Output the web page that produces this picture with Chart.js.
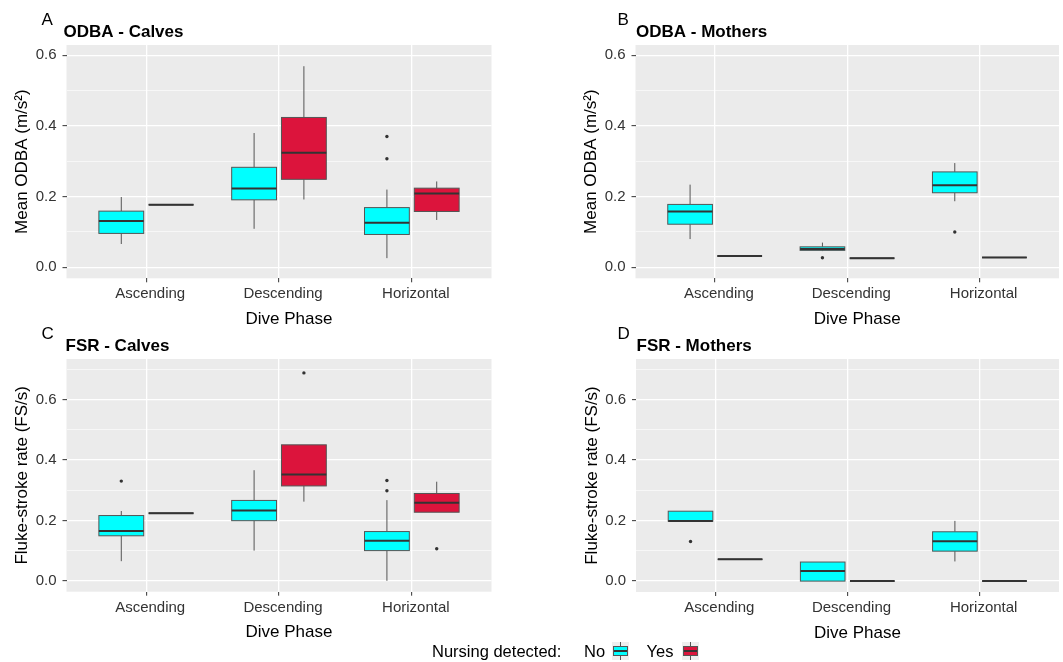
<!DOCTYPE html>
<html>
<head>
<meta charset="utf-8">
<script src="https://cdn.jsdelivr.net/npm/chart.js@4.4.1/dist/chart.umd.min.js"></script>
<style>
  html, body { margin: 0; padding: 0; background: #fff; }
  #wrap { position: relative; width: 1063px; height: 662px; overflow: hidden;
          font-family: 'Liberation Sans', Arial, sans-serif; }
  #wrap canvas { position: absolute; }
  .lg { position: absolute; font-size: 16.5px; line-height: 20px; color: #000; white-space: nowrap; }
  .key { position: absolute; width: 17px; height: 18px; background: #EEEEEE; }
  .key .wh { position: absolute; left: 8px; width: 1px; height: 4px; background: #555; }
  .key .bx { position: absolute; left: 1px; top: 4px; width: 13px; height: 8px; border: 1px solid #555; }
  .key .md { position: absolute; left: 2px; top: 8px; width: 13px; height: 2px; background: #333; }
</style>
</head>
<body>
<div id="wrap">
  <canvas id="pA" width="500" height="330" style="left:0px;top:0px;width:500px;height:330px"></canvas>
  <canvas id="pB" width="503" height="330" style="left:560px;top:0px;width:503px;height:330px"></canvas>
  <canvas id="pC" width="500" height="352" style="left:0px;top:310px;width:500px;height:352px"></canvas>
  <canvas id="pD" width="503" height="352" style="left:560px;top:310px;width:503px;height:352px"></canvas>
  <div id="legend"></div>
</div>
<script>
// categories
const phases = ['Ascending', 'Descending', 'Horizontal'];
const nursing = ['No', 'Yes'];
const legendTitle = 'Nursing detected:';
const xTitle = 'Dive Phase';

// box stats per phase: [lower whisker, Q1, median, Q3, upper whisker]
const odbaCalvesNo  = [[0.066, 0.096, 0.131, 0.159, 0.199], [0.109, 0.191, 0.223, 0.283, 0.380], [0.026, 0.093, 0.126, 0.169, 0.220]];
const odbaCalvesYes = [[0.177, 0.177, 0.177, 0.177, 0.177], [0.192, 0.249, 0.324, 0.424, 0.569], [0.134, 0.158, 0.209, 0.224, 0.243]];
const odbaCalvesNoOut  = [[], [], [0.370, 0.307]];
const odbaCalvesYesOut = [[], [], []];

const odbaMothersNo  = [[0.080, 0.122, 0.158, 0.178, 0.234], [0.046, 0.048, 0.052, 0.058, 0.070], [0.187, 0.211, 0.232, 0.270, 0.295]];
const odbaMothersYes = [[0.032, 0.032, 0.032, 0.032, 0.032], [0.026, 0.026, 0.026, 0.026, 0.026], [0.028, 0.028, 0.028, 0.028, 0.028]];
const odbaMothersNoOut  = [[], [0.027], [0.100]];
const odbaMothersYesOut = [[], [], []];

const fsrCalvesNo  = [[0.065, 0.149, 0.165, 0.216, 0.231], [0.100, 0.199, 0.233, 0.266, 0.366], [0.000, 0.100, 0.133, 0.163, 0.267]];
const fsrCalvesYes = [[0.224, 0.224, 0.224, 0.224, 0.224], [0.262, 0.314, 0.352, 0.450, 0.450], [0.227, 0.227, 0.258, 0.289, 0.328]];
const fsrCalvesNoOut  = [[0.330], [], [0.332, 0.298]];
const fsrCalvesYesOut = [[], [0.688], [0.106]];

const fsrMothersNo  = [[0.198, 0.198, 0.199, 0.231, 0.231], [0.000, 0.000, 0.033, 0.063, 0.063], [0.065, 0.099, 0.132, 0.163, 0.199]];
const fsrMothersYes = [[0.072, 0.072, 0.072, 0.072, 0.072], [0.000, 0.000, 0.000, 0.000, 0.000], [0.000, 0.000, 0.000, 0.000, 0.000]];
const fsrMothersNoOut  = [[0.131], [], []];
const fsrMothersYesOut = [[], [], []];

// tick labels
const odbaTicks = [0, 0.1, 0.2, 0.3, 0.4, 0.5, 0.6];
const fsrTicks = [0, 0.1, 0.2, 0.3, 0.4, 0.5, 0.6, 0.7];
const majorTicks = [0, 0.2, 0.4, 0.6];

const FONT = "'Liberation Sans', Arial, sans-serif";
const fills = ['#00FFFF', '#DC143C'];
const dodge = 0.1875;      // group offset from category centre
const halfBox = 0.16875;   // half box width, x units

Chart.defaults.font.family = FONT;

function isMajor(v) {
  return majorTicks.some(m => Math.abs(m - v) < 1e-6);
}

// boxes, whiskers and medians drawn through the chart's own scales
function boxPlugin(groups) {
  return {
    id: 'boxes',
    beforeDatasetsDraw(chart) {
      const { ctx, chartArea, scales: { x, y } } = chart;
      ctx.save();
      ctx.beginPath();
      ctx.rect(chartArea.left, chartArea.top, chartArea.width, chartArea.height);
      ctx.clip();
      groups.forEach((stats, g) => {
        stats.forEach((s, i) => {
          const c = i + 1 + (g === 0 ? -dodge : dodge);
          const xl = x.getPixelForValue(c - halfBox);
          const xr = x.getPixelForValue(c + halfBox);
          const xc = x.getPixelForValue(c);
          const [lo, q1, med, q3, hi] = s.map(v => y.getPixelForValue(v));
          ctx.strokeStyle = '#555';
          ctx.lineWidth = 1;
          ctx.beginPath();
          ctx.moveTo(xc, q3); ctx.lineTo(xc, hi);
          ctx.moveTo(xc, q1); ctx.lineTo(xc, lo);
          ctx.stroke();
          ctx.fillStyle = fills[g];
          ctx.fillRect(xl, q3, xr - xl, q1 - q3);
          ctx.strokeRect(xl, q3, xr - xl, q1 - q3);
          ctx.strokeStyle = '#333';
          ctx.lineWidth = 2;
          ctx.beginPath();
          ctx.moveTo(xl, med); ctx.lineTo(xr, med);
          ctx.stroke();
        });
      });
      ctx.restore();
    }
  };
}

// grey panel + panel letter, title and x-axis title
function decorPlugin(p) {
  return {
    id: 'decor',
    beforeDraw(chart) {
      const { ctx, chartArea: a } = chart;
      ctx.save();
      ctx.fillStyle = '#EBEBEB';
      ctx.fillRect(a.left, a.top, a.width, a.height);
      ctx.restore();
    },
    afterDraw(chart) {
      const { ctx, chartArea: a } = chart;
      ctx.save();
      ctx.fillStyle = '#000';
      ctx.textBaseline = 'alphabetic';
      ctx.textAlign = 'left';
      ctx.font = '17px ' + FONT;
      ctx.fillText(p.letter, p.letterX, p.letterY);
      ctx.font = 'bold 17px ' + FONT;
      ctx.fillText(p.title, p.titleX, p.titleY);
      ctx.font = '17px ' + FONT;
      ctx.textAlign = 'center';
      ctx.fillText(xTitle, (a.left + a.right) / 2 + 10, a.bottom + 45.7);
      ctx.restore();
    }
  };
}

function outlierPoints(lists, g) {
  const pts = [];
  lists.forEach((vals, i) => {
    vals.forEach(v => pts.push({ x: i + 1 + (g === 0 ? -dodge : dodge), y: v }));
  });
  return pts;
}

function makePanel(p) {
  const yTicks = p.ticks;
  new Chart(document.getElementById(p.id), {
    type: 'scatter',
    data: {
      datasets: [0, 1].map(g => ({
        label: nursing[g],
        data: outlierPoints(p.outliers[g], g),
        pointRadius: 1.7,
        pointBackgroundColor: '#333',
        pointBorderWidth: 0
      }))
    },
    options: {
      responsive: false,
      animation: false,
      events: [],
      layout: { padding: { left: 0, top: p.padTop, right: p.padRight, bottom: 0 } },
      plugins: { legend: { display: false }, tooltip: { enabled: false } },
      scales: {
        x: {
          type: 'linear',
          min: 0.4,
          max: 3.6,
          afterBuildTicks: s => { s.ticks = phases.map((_, i) => ({ value: i + 1 })); },
          afterFit: s => { s.height = p.xH; s.paddingLeft = 0; s.paddingRight = 0; },
          ticks: {
            autoSkip: false, maxRotation: 0, padding: 3, labelOffset: 4, color: '#333333',
            font: { size: 15 },
            callback: v => phases[Math.round(v) - 1]
          },
          grid: { color: '#FFFFFF', lineWidth: 1.3, tickLength: 4, tickWidth: 1, tickColor: '#333' },
          border: { display: false }
        },
        y: {
          type: 'linear',
          min: p.yMin,
          max: p.yMax,
          afterBuildTicks: s => { s.ticks = yTicks.map(v => ({ value: v })); },
          afterFit: s => { s.width = p.yW; s.paddingTop = 0; s.paddingBottom = 0; },
          ticks: {
            autoSkip: false, padding: 6, color: '#333333',
            font: { size: 15 },
            callback: v => isMajor(v) ? v.toFixed(1) : ''
          },
          grid: {
            color: '#FFFFFF',
            lineWidth: c => (c.tick && isMajor(c.tick.value)) ? 1.3 : 0.6,
            tickLength: 4,
            tickWidth: 1,
            tickColor: c => (c.tick && isMajor(c.tick.value)) ? '#333' : 'rgba(0,0,0,0)'
          },
          border: { display: false },
          title: {
            display: true, text: p.yTitle, color: '#000',
            font: { size: 17 },
            padding: { top: p.yTitleC - 10.2, bottom: 0 }
          }
        }
      }
    },
    plugins: [decorPlugin(p), boxPlugin(p.stats)]
  });
}

const odbaTitle = 'Mean ODBA (m/s\u00B2)';
const fsrTitle = 'Fluke-stroke rate (FS/s)';

makePanel({ id: 'pA', letter: 'A', title: 'ODBA - Calves', yTitle: odbaTitle,
  stats: [odbaCalvesNo, odbaCalvesYes], outliers: [odbaCalvesNoOut, odbaCalvesYesOut],
  ticks: odbaTicks, yMin: -0.031, yMax: 0.629,
  padTop: 45, padRight: 8.5, yW: 66.5, xH: 51.7, yTitleC: 22.5,
  letterX: 41.5, letterY: 25, titleX: 63.5, titleY: 36.5 });

makePanel({ id: 'pB', letter: 'B', title: 'ODBA - Mothers', yTitle: odbaTitle,
  stats: [odbaMothersNo, odbaMothersYes], outliers: [odbaMothersNoOut, odbaMothersYesOut],
  ticks: odbaTicks, yMin: -0.031, yMax: 0.629,
  padTop: 45, padRight: 3.5, yW: 75.5, xH: 51.7, yTitleC: 31.5,
  letterX: 57.5, letterY: 25, titleX: 76, titleY: 36.5 });

makePanel({ id: 'pC', letter: 'C', title: 'FSR - Calves', yTitle: fsrTitle,
  stats: [fsrCalvesNo, fsrCalvesYes], outliers: [fsrCalvesNoOut, fsrCalvesYesOut],
  ticks: fsrTicks, yMin: -0.036, yMax: 0.734,
  padTop: 49, padRight: 8.5, yW: 66.5, xH: 70.3, yTitleC: 22.5,
  letterX: 41.5, letterY: 28.5, titleX: 65.5, titleY: 40.5 });

makePanel({ id: 'pD', letter: 'D', title: 'FSR - Mothers', yTitle: fsrTitle,
  stats: [fsrMothersNo, fsrMothersYes], outliers: [fsrMothersNoOut, fsrMothersYesOut],
  ticks: fsrTicks, yMin: -0.036, yMax: 0.734,
  padTop: 49, padRight: 3, yW: 76, xH: 70, yTitleC: 32,
  letterX: 57.5, letterY: 28.5, titleX: 76.5, titleY: 40.5 });

// legend below the panels
const legend = document.getElementById('legend');
const legendTextX = [584, 646.5];
const legendKeyX = [612, 681.5];
legend.innerHTML = '<div class="lg" style="left:432px;top:641px">' + legendTitle + '</div>' +
  nursing.map((n, g) =>
    '<div class="lg" style="left:' + legendTextX[g] + 'px;top:641px">' + n + '</div>' +
    '<div class="key" style="left:' + legendKeyX[g] + 'px;top:642px">' +
      '<div class="wh" style="top:0"></div><div class="wh" style="top:14px"></div>' +
      '<div class="bx" style="background:' + fills[g] + '"></div><div class="md"></div>' +
    '</div>').join('');
</script>
</body>
</html>
